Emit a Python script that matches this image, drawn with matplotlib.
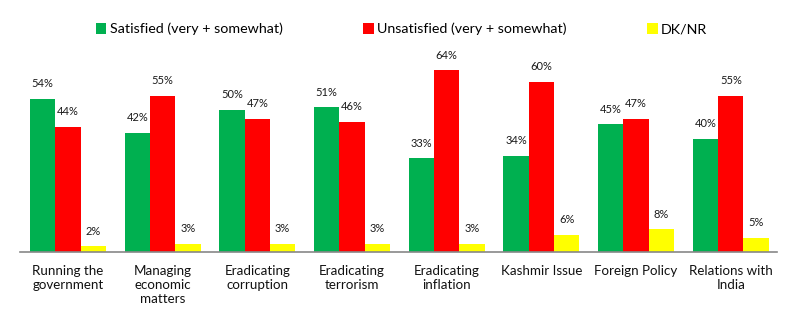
import numpy as np
import matplotlib
matplotlib.use('Agg')
import matplotlib.pyplot as plt

categories = ['Running the\ngovernment', 'Managing\neconomic\nmatters', 'Eradicating\ncorruption',
              'Eradicating\nterrorism', 'Eradicating\ninflation', 'Kashmir Issue',
              'Foreign Policy', 'Relations with\nIndia']
satisfied = [54, 42, 50, 51, 33, 34, 45, 40]
unsatisfied = [44, 55, 47, 46, 64, 60, 47, 55]
dknr = [2, 3, 3, 3, 3, 6, 8, 5]
series_names = ['Satisfied (very + somewhat)', 'Unsatisfied (very + somewhat)', 'DK/NR']
colors = ['#00B050', '#FF0000', '#FFFF00']

plt.rcParams['font.family'] = ['Lato', 'DejaVu Sans']

fig = plt.figure(figsize=(8, 3.3), dpi=100)
ax = fig.add_axes([0.025, 0.236, 0.946, 0.597])

x = np.arange(len(categories))
w = 0.267
for i, (vals, name, c) in enumerate(zip([satisfied, unsatisfied, dknr], series_names, colors)):
    pos = x + (i - 1) * w
    bars = ax.bar(pos, vals, width=w, color=c, label=name)
    for b, v in zip(bars, vals):
        ax.annotate('%d%%' % v, (b.get_x() + b.get_width() / 2, v),
                    xytext=(0, 7), textcoords='offset points',
                    ha='center', va='bottom', fontsize=8, color='#1a1a1a')

ax.set_xlim(-0.507, 7.486)
ax.set_ylim(0, 69.4)
ax.set_xticks(x)
ax.set_xticklabels(categories, fontsize=9.6, color='#111111', linespacing=1.2)
ax.tick_params(axis='x', length=0, pad=9)
ax.set_yticks([])
for s in ['top', 'right', 'left']:
    ax.spines[s].set_visible(False)
ax.spines['bottom'].set_color('#888888')
ax.spines['bottom'].set_linewidth(1.2)

fig.legend(loc='upper center', bbox_to_anchor=(0.502, 0.97), ncol=3, frameon=False,
           fontsize=10.3, handlelength=0.75, handleheight=0.75, handletextpad=0.25,
           columnspacing=5.6)

fig.savefig('out.png', dpi=100)
